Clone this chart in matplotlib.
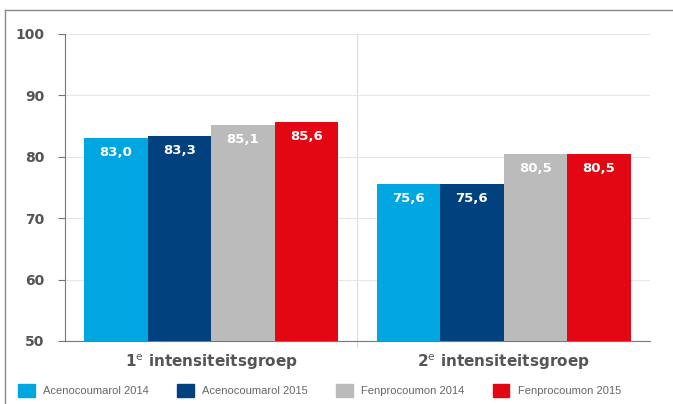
import matplotlib.pyplot as plt
from matplotlib.lines import Line2D
from matplotlib.patches import Patch

# dati
groepen = ['1$^{\\mathrm{e}}$ intensiteitsgroep', '2$^{\\mathrm{e}}$ intensiteitsgroep']
reeksen = ['Acenocoumarol 2014', 'Acenocoumarol 2015', 'Fenprocoumon 2014', 'Fenprocoumon 2015']
waarden = [
    [83.0, 75.6],
    [83.3, 75.6],
    [85.1, 80.5],
    [85.6, 80.5],
]
kleuren = ['#00A6E0', '#00417E', '#BBBBBB', '#E30613']
yticks = [50, 60, 70, 80, 90, 100]

fig = plt.figure(figsize=(6.73, 4.04), dpi=100)
ax = fig.add_axes([0.0966, 0.156, 0.869, 0.760])

bw = 0.217
for i, (nome, vals) in enumerate(zip(reeksen, waarden)):
    for g, v in enumerate(vals):
        x = g + (i - 1.5) * bw
        ax.bar(x, v - 50, bottom=50, width=bw, color=kleuren[i], zorder=3)
        ax.text(x, v - 1.3, f'{v:.1f}'.replace('.', ','), ha='center', va='top',
                color='white', fontsize=9.5, fontweight='bold', zorder=4)

ax.set_xlim(-0.5, 1.5)
ax.set_ylim(50, 100)
ax.set_yticks(yticks)
ax.set_yticklabels([str(t) for t in yticks], fontsize=10, fontweight='bold', color='#555555')
ax.tick_params(axis='y', length=5, color='#777777', pad=10)
ax.set_xticks([])
ax.grid(axis='y', color='#E6E6E6', lw=0.8, zorder=0)
for s in ['top', 'right']:
    ax.spines[s].set_visible(False)
ax.spines['left'].set_color('#777777')
ax.spines['bottom'].set_color('#777777')
ax.axvline(0.5, color='#DDDDDD', lw=0.8, ymin=-0.02, ymax=1, clip_on=False, zorder=1)

for g, lab in enumerate(groepen):
    ax.text(g, 46.5, lab, ha='center', va='center', fontsize=11, fontweight='bold',
            color='#555555')

handles = [Patch(color=c) for c in kleuren]
fig.legend(handles, reeksen, loc='lower left', bbox_to_anchor=(0.012, -0.008), ncol=4,
           frameon=False, prop={'family': 'Liberation Sans', 'size': 8},
           labelcolor='#666666', handlelength=1.5,
           handleheight=1.5, columnspacing=2.55, handletextpad=0.75)

# cornice
fig.add_artist(Line2D([0.007, 1], [0.975, 0.975], color='#888888', lw=1))
fig.add_artist(Line2D([0.007, 0.007], [0, 0.975], color='#888888', lw=1))

fig.savefig('out.png', dpi=100)
